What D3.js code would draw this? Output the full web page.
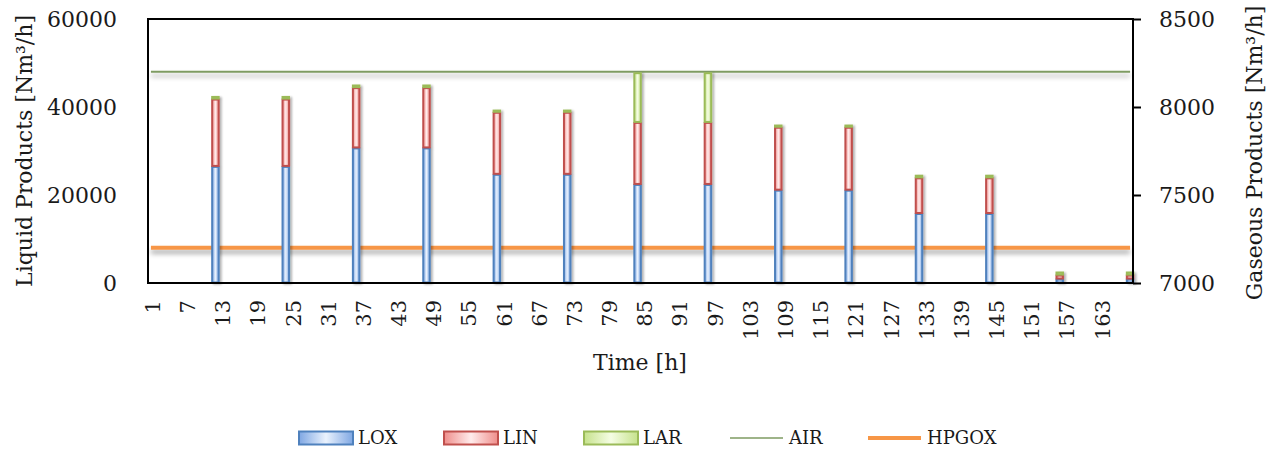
<!DOCTYPE html>
<html>
<head>
<meta charset="utf-8">
<script src="https://cdn.jsdelivr.net/npm/d3@7"></script>
<style>
  html, body { margin: 0; padding: 0; background: #fff; }
  svg { display: block; font-family: "DejaVu Serif", serif; }
</style>
</head>
<body>
<svg id="chart" width="1277" height="452"></svg>
<script>
// ---- data ----
const hourLabels = ["1","7","13","19","25","31","37","43","49","55","61","67","73","79","85","91","97","103","109","115","121","127","133","139","145","151","157","163"];
const barHours = [12, 24, 36, 48, 60, 72, 84, 96, 108, 120, 132, 144, 156, 168];
const lox = [26500, 26500, 30700, 30700, 24700, 24700, 22400, 22400, 21100, 21100, 15800, 15800, 900, 900];
const lin = [15300, 15300, 13700, 13700, 14100, 14100, 14100, 14100, 14300, 14300, 8100, 8100, 900, 900];
const lar = [600, 600, 600, 600, 500, 500, 11300, 11300, 500, 500, 600, 600, 700, 700];
const lineHours = [1, 168];
const air = [8200, 8200];
const hpgox = [7200, 7200];
const leftTicks = [0, 20000, 40000, 60000];
const rightTicks = [7000, 7500, 8000, 8500];

// ---- layout ----
const svg = d3.select("#chart");
const L = 148, R = 1133, T = 19, B = 283;
const allHours = d3.range(1, 169);

const x = d3.scaleBand().domain(allHours).range([L, R]).padding(0);
const yL = d3.scaleLinear().domain([0, 60000]).range([B, T]);
const yR = d3.scaleLinear().domain([7000, 8500]).range([B, T]);

const defs = svg.append("defs");
function grad(id, edge, mid) {
  const g = defs.append("linearGradient").attr("id", id).attr("x1", "0%").attr("x2", "100%").attr("y1", "0%").attr("y2", "0%");
  g.append("stop").attr("offset", "0%").attr("stop-color", edge);
  g.append("stop").attr("offset", "50%").attr("stop-color", mid);
  g.append("stop").attr("offset", "100%").attr("stop-color", edge);
}
grad("gLOX", "#7fa7e3", "#eaf2fd");
grad("gLIN", "#ef8e8b", "#ffecec");
grad("gLAR", "#c6e28c", "#f5fde4");

function makeShadow(id, std, dx, dy, alpha) {
  const f = defs.append("filter").attr("id", id).attr("filterUnits", "userSpaceOnUse")
    .attr("x", 0).attr("y", 0).attr("width", 1277).attr("height", 452);
  f.append("feGaussianBlur").attr("in", "SourceAlpha").attr("stdDeviation", std).attr("result", "b");
  f.append("feOffset").attr("in", "b").attr("dx", dx).attr("dy", dy).attr("result", "o");
  f.append("feComponentTransfer").attr("in", "o").attr("result", "s")
    .append("feFuncA").attr("type", "linear").attr("slope", alpha);
  const m = f.append("feMerge");
  m.append("feMergeNode").attr("in", "s");
  m.append("feMergeNode").attr("in", "SourceGraphic");
}
makeShadow("shadow", 2.5, 0, 4, 0.35);
makeShadow("bshadow", 1.3, 2, 1, 0.3);

// ---- lines (right axis) ----
const lineGen = d3.line().x(d => x(d.h) + x.bandwidth() / 2).y(d => yR(d.v));
svg.append("path")
  .datum(lineHours.map((h, i) => ({ h, v: air[i] })))
  .attr("d", lineGen).attr("fill", "none")
  .attr("stroke", "#7e9b62").attr("stroke-width", 2)
  .attr("filter", "url(#shadow)");
svg.append("path")
  .datum(lineHours.map((h, i) => ({ h, v: hpgox[i] })))
  .attr("d", lineGen).attr("fill", "none")
  .attr("stroke", "#f79646").attr("stroke-width", 4)
  .attr("filter", "url(#shadow)");

// ---- stacked bars ----
const rows = barHours.map((h, i) => ({ hour: h, LOX: lox[i], LIN: lin[i], LAR: lar[i] }));
const keys = ["LOX", "LIN", "LAR"];
const stroke = { LOX: "#4f81bd", LIN: "#c0504d", LAR: "#9bbb59" };
const stack = d3.stack().keys(keys)(rows);
const bw = x.bandwidth() * 1.45;

const barG = svg.append("g").attr("filter", "url(#bshadow)");
stack.forEach(layer => {
  barG.append("g").selectAll("rect").data(layer).join("rect")
    .attr("x", d => x(d.data.hour) + x.bandwidth() / 2 - bw / 2 + 1)
    .attr("y", d => yL(d[1]) + 0.5)
    .attr("width", bw - 2)
    .attr("height", d => Math.max(0.5, yL(d[0]) - yL(d[1]) - 1))
    .attr("fill", "url(#g" + layer.key + ")")
    .attr("stroke", stroke[layer.key])
    .attr("stroke-width", 2);
});

// ---- frame & axes ----
svg.append("rect").attr("x", L).attr("y", T).attr("width", R - L).attr("height", B - T)
  .attr("fill", "none").attr("stroke", "#000").attr("stroke-width", 2);

const axL = svg.append("g").attr("transform", `translate(${L},0)`)
  .call(d3.axisLeft(yL).tickValues(leftTicks).tickSize(0).tickPadding(31).tickFormat(d3.format("d")));
axL.select(".domain").remove();
axL.selectAll("text").attr("font-size", 22).attr("font-family", "DejaVu Serif").attr("fill", "#1a1a1a");

const axR = svg.append("g").attr("transform", `translate(${R},0)`)
  .call(d3.axisRight(yR).tickValues(rightTicks).tickSize(8).tickPadding(18).tickFormat(d3.format("d")));
axR.select(".domain").remove();
axR.selectAll("line").attr("stroke", "#000").attr("stroke-width", 2);
axR.selectAll("text").attr("font-size", 22).attr("font-family", "DejaVu Serif").attr("fill", "#1a1a1a");

const tickHours = hourLabels.map(Number);
const axB = svg.append("g").attr("transform", `translate(0,${B})`)
  .call(d3.axisBottom(x).tickValues(tickHours).tickSize(0).tickFormat((d, i) => hourLabels[i]));
axB.select(".domain").remove();
axB.selectAll("text")
  .attr("font-size", 21).attr("font-family", "DejaVu Serif").attr("fill", "#1a1a1a")
  .attr("text-anchor", "end")
  .attr("transform", "rotate(-90)")
  .attr("x", -17).attr("y", 1.5).attr("dy", "0.35em");

// ---- titles ----
svg.append("text").attr("transform", `translate(24,${(T + B) / 2}) rotate(-90)`)
  .attr("text-anchor", "middle").attr("dy", "0.35em")
  .attr("font-size", 22).attr("fill", "#1a1a1a")
  .text("Liquid Products [Nm³/h]");
svg.append("text").attr("transform", `translate(1254,${(T + B) / 2 + 2}) rotate(-90)`)
  .attr("text-anchor", "middle").attr("dy", "0.35em")
  .attr("font-size", 22).attr("fill", "#1a1a1a")
  .text("Gaseous Products [Nm³/h]");
svg.append("text").attr("x", 640).attr("y", 370)
  .attr("text-anchor", "middle").attr("font-size", 22).attr("fill", "#1a1a1a")
  .text("Time [h]");

// ---- legend ----
const legendItems = [
  { name: "LOX", type: "box", x: 299 },
  { name: "LIN", type: "box", x: 444 },
  { name: "LAR", type: "box", x: 584 },
  { name: "AIR", type: "line", x: 730, color: "#7e9b62", w: 1.5 },
  { name: "HPGOX", type: "line", x: 868, color: "#f79646", w: 4 }
];
const ly = 438;
const lg = svg.append("g");
legendItems.forEach(it => {
  if (it.type === "box") {
    lg.append("rect").attr("x", it.x).attr("y", ly - 6.5).attr("width", 54).attr("height", 13)
      .attr("fill", "url(#g" + it.name + ")").attr("stroke", stroke[it.name]).attr("stroke-width", 2);
  } else {
    lg.append("line").attr("x1", it.x).attr("x2", it.x + 53).attr("y1", ly).attr("y2", ly)
      .attr("stroke", it.color).attr("stroke-width", it.w);
  }
  lg.append("text").attr("x", it.x + 59).attr("y", ly).attr("dy", "0.35em")
    .attr("font-size", 18).attr("fill", "#1a1a1a").text(it.name);
});
</script>
</body>
</html>
